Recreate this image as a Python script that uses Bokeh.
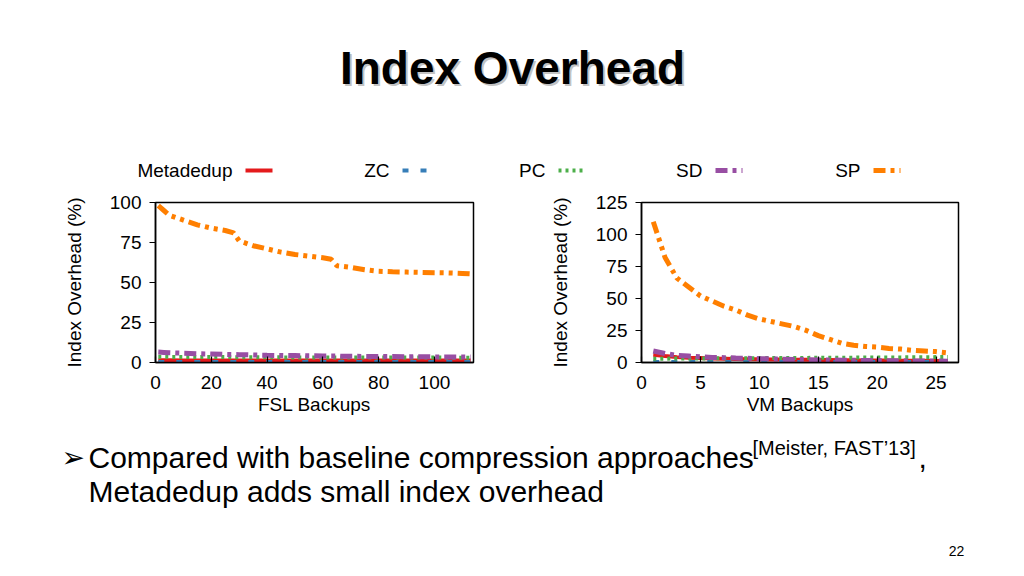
from bokeh.plotting import figure
from bokeh.models import Range1d, FixedTicker
from bokeh.layouts import column, row
from bokeh.embed import file_html
from bokeh.resources import INLINE
from bokeh.core.properties import value

# ---------------- data ----------------
series_names = ["Metadedup", "ZC", "PC", "SD", "SP"]

fsl_x = [1, 3, 5, 10, 15, 20, 25, 28, 30, 35, 40, 45, 50, 55, 60, 63, 65,
         70, 75, 80, 85, 90, 95, 100, 105, 110, 113]
fsl_metadedup = [1.4, 1.4, 1.4, 1.3, 1.3, 1.3, 1.3, 1.3, 1.3, 1.3, 1.2, 1.2, 1.2, 1.2,
                 1.2, 1.2, 1.2, 1.2, 1.2, 1.2, 1.2, 1.2, 1.2, 1.2, 1.2, 1.2, 1.2]
fsl_zc = [0.3] * 27
fsl_pc = [3.6, 3.6, 3.5, 3.5, 3.4, 3.4, 3.4, 3.3, 3.3, 3.3, 3.3, 3.2, 3.2, 3.2,
          3.2, 3.2, 3.2, 3.1, 3.1, 3.1, 3.1, 3.1, 3.1, 3.1, 3.0, 3.0, 3.0]
fsl_sd = [6.5, 6.3, 6.1, 5.8, 5.5, 5.3, 5.1, 5.0, 4.9, 4.7, 4.5, 4.4, 4.3, 4.2,
          4.1, 4.0, 4.0, 3.9, 3.8, 3.7, 3.7, 3.6, 3.6, 3.5, 3.5, 3.5, 3.5]
fsl_sp = [98, 95, 92, 89, 86, 84, 82.5, 81, 76, 73, 71, 69, 67.5, 66.5,
          65.5, 64.5, 60.5, 59.5, 58, 57, 56.7, 56.5, 56.3, 56.1, 56, 55.7, 55.4]

vm_x = list(range(1, 27))
vm_metadedup = [6, 5, 4.2, 3.8, 3.5, 3.2, 3, 2.8, 2.6, 2.5, 2.4, 2.3, 2.2, 2.1, 2,
                1.9, 1.8, 1.7, 1.6, 1.5, 1.5, 1.4, 1.3, 1.3, 1.2, 1.2]
vm_zc = [0.3] * 26
vm_pc = [3, 3, 3.1, 3.1, 3.2, 3.2, 3.3, 3.3, 3.4, 3.4, 3.5, 3.5, 3.6, 3.6, 3.7,
         3.7, 3.8, 3.8, 3.9, 3.9, 4, 4, 4.1, 4.1, 4.2, 4.2]
vm_sd = [9, 7, 5.5, 5, 4.5, 4, 3.8, 3.5, 3.3, 3, 2.8, 2.6, 2.4, 2.2, 2, 1.9,
         1.8, 1.7, 1.6, 1.5, 1.4, 1.3, 1.2, 1.1, 1.1, 1.0]
vm_sp = [110, 82, 66, 59, 52, 48, 44, 41, 37, 34, 32, 30, 28, 25, 21, 18, 15,
         13.5, 12.5, 12, 11, 10.5, 9.5, 9, 8.5, 7.5]

fsl_ticks_x = [0, 20, 40, 60, 80, 100]
fsl_ticks_y = [0, 25, 50, 75, 100]
vm_ticks_x = [0, 5, 10, 15, 20, 25]
vm_ticks_y = [0, 25, 50, 75, 100, 125]

title_text = "Index Overhead"
y_label = "Index Overhead (%)"
fsl_label = "FSL Backups"
vm_label = "VM Backups"
bullet_line1 = "Compared with baseline compression approaches"
bullet_cite = "[Meister, FAST\u201913]"
bullet_line2 = "Metadedup adds small index overhead"
page_number = "22"

# ---------------- styles ----------------
FONT = "Liberation Sans"
styles = {
    "Metadedup": dict(color="#e41a1c", dash="solid", width=4),
    "ZC": dict(color="#377eb8", dash="6 12", width=4),
    "PC": dict(color="#4daf4a", dash="3 4", width=4),
    "SD": dict(color="#984ea3", dash="12 5 4 5", width=5),
    "SP": dict(color="#ff7f00", dash="12 5 4 5 4 5", width=5),
}


def make_chart(x, ys, xr, yr, xticks, yticks, xlabel, bl, br):
    p = figure(width=512, height=240, x_range=Range1d(*xr), y_range=Range1d(*yr),
               output_backend="svg", toolbar_location=None,
               min_border_left=bl, min_border_right=br,
               min_border_top=17, min_border_bottom=63)
    p.background_fill_color = "white"
    p.border_fill_color = "white"
    p.grid.grid_line_color = None
    p.outline_line_color = "black"
    p.outline_line_width = 1.5
    p.outline_line_alpha = 1.0
    for name, yv in zip(series_names, ys):
        s = styles[name]
        p.line(x, yv, line_color=s["color"], line_width=s["width"], line_dash=s["dash"])
    for ax in (p.xaxis[0], p.yaxis[0]):
        ax.axis_line_color = "black"
        ax.axis_line_width = 1.5
        ax.major_tick_line_color = "black"
        ax.major_tick_line_width = 1.2
        ax.minor_tick_line_color = None
        ax.major_label_text_font = FONT
        ax.major_label_text_font_size = "19px"
        ax.major_label_text_color = "black"
        ax.axis_label_text_font = FONT
        ax.axis_label_text_font_size = "19px"
        ax.axis_label_text_font_style = "normal"
        ax.axis_label_text_color = "black"
    p.xaxis.ticker = FixedTicker(ticks=xticks)
    p.yaxis.ticker = FixedTicker(ticks=yticks)
    p.xaxis.major_tick_in = 6
    p.xaxis.major_tick_out = 0
    p.xaxis.major_label_standoff = 13
    p.xaxis.axis_label = xlabel
    p.xaxis.axis_label_standoff = 2
    p.yaxis.major_tick_in = 0
    p.yaxis.major_tick_out = 6
    p.yaxis.major_label_standoff = 8
    p.yaxis.axis_label = y_label
    p.yaxis.axis_label_standoff = 22
    return p


left = make_chart(fsl_x, [fsl_metadedup, fsl_zc, fsl_pc, fsl_sd, fsl_sp],
                  (0, 114), (0, 100), fsl_ticks_x, fsl_ticks_y, fsl_label, 155, 39)
right = make_chart(vm_x, [vm_metadedup, vm_zc, vm_pc, vm_sd, vm_sp],
                   (0, 26.9), (0, 125), vm_ticks_x, vm_ticks_y, vm_label, 129, 66)


def blank(h):
    f = figure(width=1024, height=h, x_range=Range1d(0, 1024), y_range=Range1d(h, 0),
               output_backend="svg", toolbar_location=None, min_border=0)
    f.axis.visible = False
    f.grid.visible = False
    f.outline_line_color = None
    f.background_fill_color = "white"
    f.border_fill_color = "white"
    return f


# ---------------- top band: title + legend ----------------
top = blank(185)
top.text([514], [69], text=[title_text], text_font=value(FONT), text_font_size="46px",
         text_font_style="bold", text_align="center", text_baseline="middle",
         text_color="#9a9a9a", text_alpha=0.6)
top.text([512], [67], text=[title_text], text_font=value(FONT), text_font_size="46px",
         text_font_style="bold", text_align="center", text_baseline="middle",
         text_color="black")

legend_right_edges = [232, 389, 545, 702, 860]
for name, xr_ in zip(series_names, legend_right_edges):
    s = styles[name]
    top.text([xr_], [170], text=[name], text_font=value(FONT), text_font_size="19px",
             text_align="right", text_baseline="middle", text_color="black")
    top.line([xr_ + 13, xr_ + 40], [170, 170], line_color=s["color"],
             line_width=s["width"], line_dash=s["dash"])

# ---------------- bottom band: bullet text ----------------
bottom = blank(151)
bottom.text([61], [32], text=["\u27a2"], text_font=value("DejaVu Sans"),
            text_font_size="28px", text_align="left", text_baseline="middle",
            text_color="black")
bottom.text([88], [32], text=[bullet_line1], text_font=value(FONT), text_font_size="30px",
            text_align="left", text_baseline="middle", text_color="black")
bottom.text([752], [22], text=[bullet_cite], text_font=value(FONT), text_font_size="20px",
            text_align="left", text_baseline="middle", text_color="black")
bottom.text([918], [32], text=[","], text_font=value(FONT), text_font_size="30px",
            text_align="left", text_baseline="middle", text_color="black")
bottom.text([88], [66], text=[bullet_line2], text_font=value(FONT), text_font_size="30px",
            text_align="left", text_baseline="middle", text_color="black")
bottom.text([956], [125], text=[page_number], text_font=value(FONT), text_font_size="14px",
            text_align="center", text_baseline="middle", text_color="black")

layout = column(top, row(left, right), bottom)
open("out.html", "w").write(file_html(layout, INLINE))
